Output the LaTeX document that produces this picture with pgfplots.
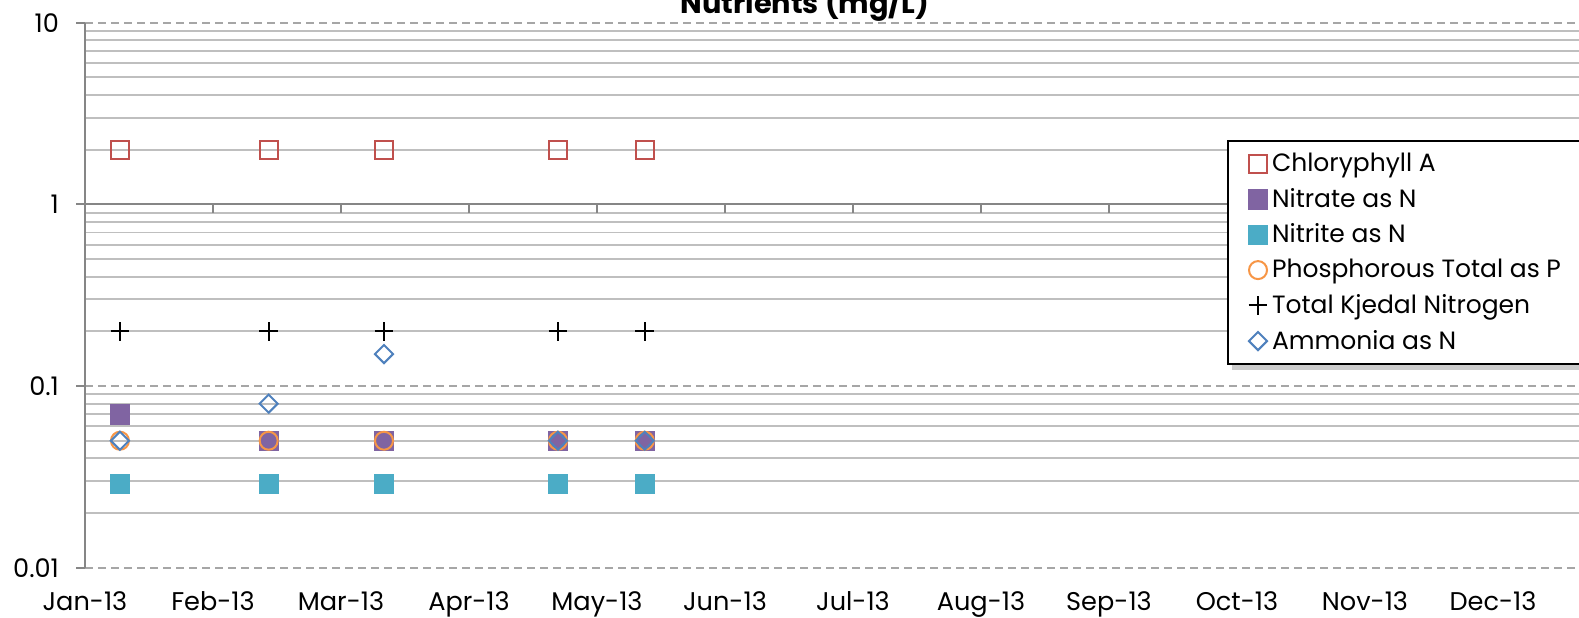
\documentclass[border=0pt]{standalone}
\usepackage{pgfplots}
\pgfplotsset{compat=1.18}
\usepackage{fontspec}
\setmainfont{Poppins}
\usetikzlibrary{shadows}
\definecolor{cChl}{RGB}{192,80,77}
\definecolor{cNitra}{RGB}{128,100,162}
\definecolor{cNitri}{RGB}{75,172,198}
\definecolor{cPhos}{RGB}{247,150,70}
\definecolor{cAmm}{RGB}{79,129,189}
\definecolor{gridminor}{RGB}{191,191,191}
\definecolor{gridmajor}{RGB}{166,166,166}
\definecolor{axisgray}{RGB}{134,134,134}
\begin{document}
\begin{tikzpicture}
\path[use as bounding box] (-42.5pt,-24.65pt) rectangle (747pt,283.85pt);
\clip (-42.5pt,-24.65pt) rectangle (747pt,283.85pt);
\begin{axis}[
  at={(0pt,0pt)}, anchor=south west,
  scale only axis, width=768pt, height=272.5pt,
  xmin=0, xmax=12, ymin=0.01, ymax=10, ymode=log, log basis y=10,
  axis x line*=bottom, axis y line*=left,
  x axis line style={draw=none},
  y axis line style={draw=axisgray, line width=1pt},
  xtick={0,1,2,3,4,5,6,7,8,9,10,11},
  xticklabels={Jan-13,Feb-13,Mar-13,Apr-13,May-13,Jun-13,Jul-13,Aug-13,Sep-13,Oct-13,Nov-13,Dec-13},
  xtick style={draw=none},
  xticklabel style={anchor=base, yshift=-17pt},
  ytick={0.01,0.1,1,10},
  yticklabels={0.01,0.1,1,10},
  minor ytick={0.02,0.03,0.04,0.05,0.06,0.07,0.08,0.09,0.2,0.3,0.4,0.5,0.6,0.7,0.8,0.9,2,3,4,5,6,7,8,9},
  yticklabel style={xshift=-5pt},
  ytick style={draw=axisgray, line width=1pt},
  minor y tick style={draw=none},
  tick align=outside, major tick length=4.5pt, minor tick length=0pt,
  ymajorgrids, yminorgrids,
  major grid style={draw=gridmajor, dash pattern=on 4pt off 2.5pt, line width=0.9pt},
  minor grid style={draw=gridminor, line width=0.9pt},
  tick label style={font=\fontsize{12.8}{14}\selectfont, text=black},
  /pgf/number format/assume math mode=true,
  legend cell align=left,
  legend style={at={(0.7435,0.7848)}, anchor=north west, draw=black, line width=1pt,
    fill=white, drop shadow={shadow xshift=2pt, shadow yshift=-3pt, opacity=0.4},
    font=\fontsize{12.5}{14}\selectfont, row sep=2.8pt, inner xsep=10pt, inner ysep=4pt},
  legend image code/.code={\path (-4.5pt,0pt) (4.5pt,0pt); \draw[#1] plot coordinates {(0pt,0pt)};},
  clip=false,
]
\draw[axisgray, line width=1pt] (axis cs:0,1) -- (axis cs:12,1);
\pgfplotsinvokeforeach{1,...,11}{\draw[axisgray, line width=1pt] (axis cs:#1,1) -- ++(0pt,-4.3pt);}

\addplot[only marks, color=cChl, mark=square, mark size=4.5pt, mark options={line width=1pt}]
  coordinates {(0.273,2) (1.435,2) (2.336,2) (3.695,2) (4.373,2)};
\addlegendentry{Chloryphyll A}
\addplot[only marks, color=cNitra, mark=square*, mark size=4.8pt, mark options={line width=0.2pt}]
  coordinates {(0.273,0.07) (1.435,0.05) (2.336,0.05) (3.695,0.05) (4.373,0.05)};
\addlegendentry{Nitrate as N}
\addplot[only marks, color=cNitri, mark=square*, mark size=4.8pt, mark options={line width=0.2pt}]
  coordinates {(0.273,0.029) (1.435,0.029) (2.336,0.029) (3.695,0.029) (4.373,0.029)};
\addlegendentry{Nitrite as N}
\addplot[only marks, color=cPhos, mark=o, mark size=4.5pt, mark options={line width=1pt}]
  coordinates {(0.273,0.05) (1.435,0.05) (2.336,0.05) (3.695,0.05) (4.373,0.05)};
\addlegendentry{\makebox[165pt][l]{Phosphorous Total as P}}
\addplot[only marks, color=black, mark=+, mark size=4.65pt, mark options={line width=1pt}]
  coordinates {(0.273,0.2) (1.435,0.2) (2.336,0.2) (3.695,0.2) (4.373,0.2)};
\addlegendentry{Total Kjedal Nitrogen}
\addplot[only marks, color=cAmm, mark=square, mark size=3.2pt, mark options={line width=1pt, rotate=45}]
  coordinates {(0.273,0.05) (1.435,0.08) (2.336,0.15) (3.695,0.05) (4.373,0.05)};
\addlegendentry{Ammonia as N}
\end{axis}
\node[anchor=base, font=\bfseries\fontsize{14.4}{16}\selectfont] at (360pt,276.9pt) {Nutrients (mg/L)};
\end{tikzpicture}
\end{document}
